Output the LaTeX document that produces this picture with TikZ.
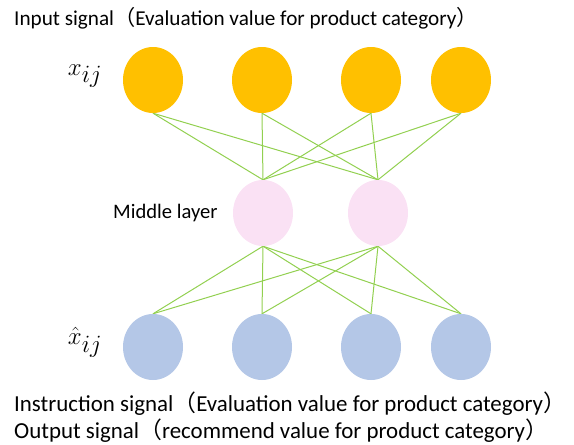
\documentclass[tikz,border=0pt]{standalone}
\usepackage{fontspec}
\usetikzlibrary{shapes.geometric,backgrounds}
\setmainfont{Carlito}
\newfontfamily\cjkfont{Noto Sans CJK SC}
% full-width parentheses; the closing one without its trailing blank half
\newcommand{\lpar}{{\cjkfont （}}
\newcommand{\rpar}{{\cjkfont\makebox[0.5em][l]{）}}}
\definecolor{inorange}{HTML}{FFC000}
\definecolor{midpink}{HTML}{FAE1F4}
\definecolor{outblue}{HTML}{B4C7E7}
\definecolor{linkgreen}{HTML}{92D050}
\begin{document}
\begin{tikzpicture}[x=1pt,y=-1pt,
  unit/.style={ellipse,minimum width=60pt,minimum height=66pt,inner sep=0pt},
  inunit/.style={unit,fill=inorange},
  midunit/.style={unit,fill=midpink},
  outunit/.style={unit,fill=outblue},
  link/.style={draw=linkgreen,line width=1pt},
  caption/.style={anchor=west,inner sep=0pt,font=\fontsize{21.2}{24}\selectfont},
  bigcaption/.style={caption,font=\fontsize{22.9}{26}\selectfont},
  varlabel/.style={inner sep=0pt,font=\fontsize{38}{42}\selectfont}]
\useasboundingbox (0,0) rectangle (574,445);
% input layer
\foreach \i/\x in {1/153,2/262,3/371,4/461}
  \node[inunit] (in\i) at (\x,80) {};
% middle layer
\node[midunit] (m1) at (263,213) {};
\node[midunit] (m2) at (378,213) {};
% output layer
\foreach \i/\x in {1/153,2/262,3/371,4/461}
  \node[outunit] (out\i) at (\x,347) {};
% connections
\begin{scope}[on background layer]
\foreach \i in {1,2,3,4}{
  \foreach \j in {1,2}{
    \draw[link] (in\i.south) -- (m\j.north);
    \draw[link] (m\j.south) -- (out\i.north);
  }
}
\end{scope}
% labels
\node[caption] (title) at (14,18) {Input signal\lpar Evaluation value for product category\rpar};
\node[varlabel] (xin) at (85,76) {$x_{ij}$};
\node[varlabel] (xout) at (85,342) {$\hat{x}_{ij}$};
\node[inner sep=0pt,anchor=west,font=\fontsize{20.6}{24}\selectfont] (midlab) at (113,213) {Middle layer};
\node[bigcaption] (instr) at (14,404) {Instruction signal\lpar Evaluation value for product category\rpar};
\node[bigcaption] (outsig) at (14,431) {Output signal\lpar recommend value for product category\rpar};
\end{tikzpicture}
\end{document}
